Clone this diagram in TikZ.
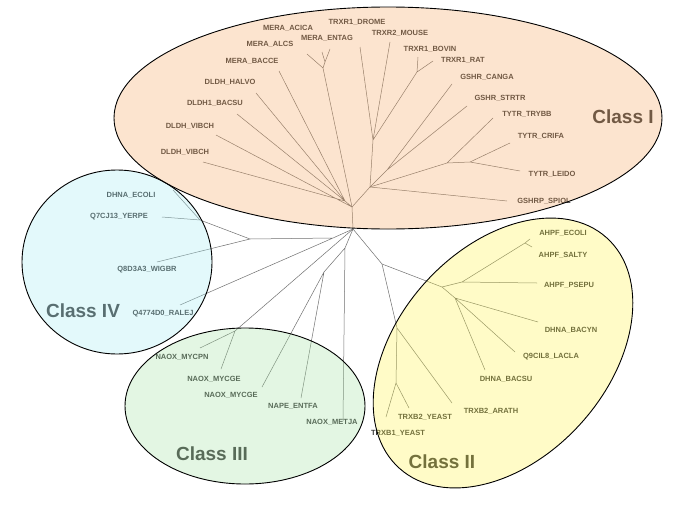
\documentclass[tikz,border=0pt]{standalone}
\usepackage{fontspec}
\setmainfont{Liberation Sans}
\definecolor{treegray}{RGB}{112,112,112}
\definecolor{labelgray}{RGB}{56,56,56}
\definecolor{classone}{RGB}{248,168,98}
\definecolor{classtwo}{RGB}{255,245,72}
\definecolor{classthree}{RGB}{165,228,165}
\definecolor{classfour}{RGB}{165,238,245}
\tikzset{
  branch/.style={treegray, line width=0.5pt},
  leaf/.style={inner sep=0pt, text=labelgray, font=\bfseries\fontsize{7.5}{8}\selectfont},
  classname/.style={inner sep=0pt, text=labelgray, font=\bfseries\fontsize{19}{22}\selectfont},
  group/.style={draw=black, line width=0.9pt, fill opacity=0.3},
}
\begin{document}
\begin{tikzpicture}[x=1pt,y=-1pt]
    \useasboundingbox[fill=white] (0,0) rectangle (685,514);
    % inner points of the tree
    \coordinate (r) at (353,229);
    \coordinate (a) at (352,207);
    \coordinate (b) at (345,201);
    \coordinate (c) at (370,187);
    \coordinate (m2) at (323,68);
    \coordinate (m1) at (325,62);
    \coordinate (t1) at (373,140);
    \coordinate (t2) at (417,72);
    \coordinate (g) at (387,170);
    \coordinate (y1) at (447,163);
    \coordinate (y2) at (470,162);
    \coordinate (k3) at (333,238);
    \coordinate (k2) at (250,239);
    \coordinate (k1) at (200,220);
    \coordinate (n0) at (345,248);
    \coordinate (n1) at (324,272);
    \coordinate (n2) at (235,331);
    \coordinate (p1) at (382,264);
    \coordinate (p2) at (442,287);
    \coordinate (p4) at (462,282);
    \coordinate (p6) at (525,243);
    \coordinate (p5) at (455,298);
    \coordinate (p3) at (397,328);
    \coordinate (p7) at (396,383);
    % leaf ends
    \coordinate (e-acica) at (322,52);
    \coordinate (e-entag) at (330,49);
    \coordinate (e-alcs) at (307,54);
    \coordinate (e-bacce) at (279,71);
    \coordinate (e-halvo) at (256,93);
    \coordinate (e-bacsu1) at (237,114);
    \coordinate (e-vibch1) at (216,135);
    \coordinate (e-vibch2) at (203,162);
    \coordinate (e-drome) at (360,47);
    \coordinate (e-mouse) at (390,42);
    \coordinate (e-bovin) at (418,57);
    \coordinate (e-rat) at (433,61);
    \coordinate (e-canga) at (452,84);
    \coordinate (e-strtr) at (467,106);
    \coordinate (e-trybb) at (493,118);
    \coordinate (e-crifa) at (510,143);
    \coordinate (e-leido) at (520,171);
    \coordinate (e-spiol) at (507,201);
    \coordinate (e-ecoli4) at (173,190);
    \coordinate (e-yerpe) at (162,217);
    \coordinate (e-wigbr) at (157,262);
    \coordinate (e-ralej) at (180,305);
    \coordinate (e-mycpn) at (200,348);
    \coordinate (e-mycge1) at (221,369);
    \coordinate (e-mycge2) at (262,387);
    \coordinate (e-entfa) at (301,398);
    \coordinate (e-metja) at (343,421);
    \coordinate (e-ecoli2) at (530,239);
    \coordinate (e-salty) at (532,247);
    \coordinate (e-psepu) at (537,283);
    \coordinate (e-bacyn) at (538,322);
    \coordinate (e-lacla) at (515,352);
    \coordinate (e-bacsu2) at (485,370);
    \coordinate (e-arath) at (452,403);
    \coordinate (e-yeast1) at (386,417);
    \coordinate (e-yeast2) at (409,408);
    % class I branches
    \draw[branch] (r) -- (a) -- (m2) -- (m1) -- (e-acica) (m1) -- (e-entag) (m2) -- (e-alcs);
    \draw[branch] (a) -- (b) -- (e-bacce) (b) -- (e-halvo) (b) -- (e-bacsu1) (a) -- (e-vibch1) (b) -- (e-vibch2);
    \draw[branch] (a) -- (c) -- (t1) -- (e-drome) (t1) -- (e-mouse) (t1) -- (t2) -- (e-bovin) (t2) -- (e-rat);
    \draw[branch] (c) -- (g) -- (e-canga) (g) -- (e-strtr);
    \draw[branch] (c) -- (y1) -- (e-trybb) (y1) -- (y2) -- (e-crifa) (y2) -- (e-leido);
    \draw[branch] (c) -- (e-spiol);
    % class IV branches
    \draw[branch] (r) -- (k3) -- (e-ralej) (k3) -- (k2) -- (e-wigbr) (k2) -- (k1) -- (e-ecoli4) (k1) -- (e-yerpe);
    % class III branches
    \draw[branch] (r) -- (n0) -- (e-metja) (n0) -- (n1) -- (e-mycge2) (n1) -- (e-entfa);
    \draw[branch] (r) -- (n2) -- (e-mycpn) (n2) -- (e-mycge1);
    % class II branches
    \draw[branch] (r) -- (p1) -- (p2) -- (p4) -- (p6) -- (e-ecoli2) (p6) -- (e-salty) (p4) -- (e-psepu);
    \draw[branch] (p2) -- (p5) -- (e-bacyn) (p5) -- (e-lacla) (p5) -- (e-bacsu2);
    \draw[branch] (p1) -- (p3) -- (e-arath) (p3) -- (p7) -- (e-yeast1) (p7) -- (e-yeast2);
    % class I labels
    \node[leaf] (acica) at (288,28) {MERA\_ACICA};
    \node[leaf] (drome) at (357,22) {TRXR1\_DROME};
    \node[leaf] (entag) at (327,38) {MERA\_ENTAG};
    \node[leaf] (mouse) at (400,33) {TRXR2\_MOUSE};
    \node[leaf] (alcs) at (270,44) {MERA\_ALCS};
    \node[leaf] (bacce) at (252,61) {MERA\_BACCE};
    \node[leaf] (bovin) at (430,49) {TRXR1\_BOVIN};
    \node[leaf] (rat) at (463,60) {TRXR1\_RAT};
    \node[leaf] (canga) at (487,77) {GSHR\_CANGA};
    \node[leaf] (halvo) at (230,82) {DLDH\_HALVO};
    \node[leaf] (bacsu1) at (215,103) {DLDH1\_BACSU};
    \node[leaf] (strtr) at (500,98) {GSHR\_STRTR};
    \node[leaf] (trybb) at (527,114) {TYTR\_TRYBB};
    \node[leaf] (vibch1) at (190,126) {DLDH\_VIBCH};
    \node[leaf] (crifa) at (541,136) {TYTR\_CRIFA};
    \node[leaf] (vibch2) at (185,152) {DLDH\_VIBCH};
    \node[leaf] (leido) at (552,174) {TYTR\_LEIDO};
    \node[leaf] (spiol) at (544,201) {GSHRP\_SPIOL};
    % class IV labels
    \node[leaf] (ecoli4) at (131,195) {DHNA\_ECOLI};
    \node[leaf] (yerpe) at (119,217) {Q7CJ13\_YERPE};
    \node[leaf] (wigbr) at (147,270) {Q8D3A3\_WIGBR};
    \node[leaf] (ralej) at (163,314) {Q4774D0\_RALEJ};
    % class III labels
    \node[leaf] (mycpn) at (182,357) {NAOX\_MYCPN};
    \node[leaf] (mycge1) at (214,379) {NAOX\_MYCGE};
    \node[leaf] (mycge2) at (231,395) {NAOX\_MYCGE};
    \node[leaf] (entfa) at (293,406) {NAPE\_ENTFA};
    \node[leaf] (metja) at (332,422) {NAOX\_METJA};
    % class II labels
    \node[leaf] (ecoli2) at (563,233) {AHPF\_ECOLI};
    \node[leaf] (salty) at (563,255) {AHPF\_SALTY};
    \node[leaf] (psepu) at (569,285) {AHPF\_PSEPU};
    \node[leaf] (bacyn) at (571,330) {DHNA\_BACYN};
    \node[leaf] (lacla) at (551,357) {Q9CIL8\_LACLA};
    \node[leaf] (bacsu2) at (506,379) {DHNA\_BACSU};
    \node[leaf] (arath) at (491,411) {TRXB2\_ARATH};
    \node[leaf] (yeast2) at (425,417) {TRXB2\_YEAST};
    \node[leaf] (yeast1) at (398,433) {TRXB1\_YEAST};
    % class names
    \node[classname] (one) at (623,117) {Class I};
    \node[classname] (two) at (442,462) {Class II};
    \node[classname] (three) at (212,454) {Class III};
    \node[classname] (four) at (83,311) {Class IV};
    % class outlines
    \draw[group, fill=classfour] (117,262) ellipse [x radius=95, y radius=92];
    \draw[group, fill=classone] (388,118) ellipse [x radius=274, y radius=111];
    \draw[group, fill=classthree] (245,406) ellipse [x radius=120, y radius=78];
    \begin{scope}[shift={(503,353)}, rotate=48]
        \draw[group, fill=classtwo] (0,0) ellipse [x radius=155, y radius=105];
    \end{scope}
\end{tikzpicture}
\end{document}
